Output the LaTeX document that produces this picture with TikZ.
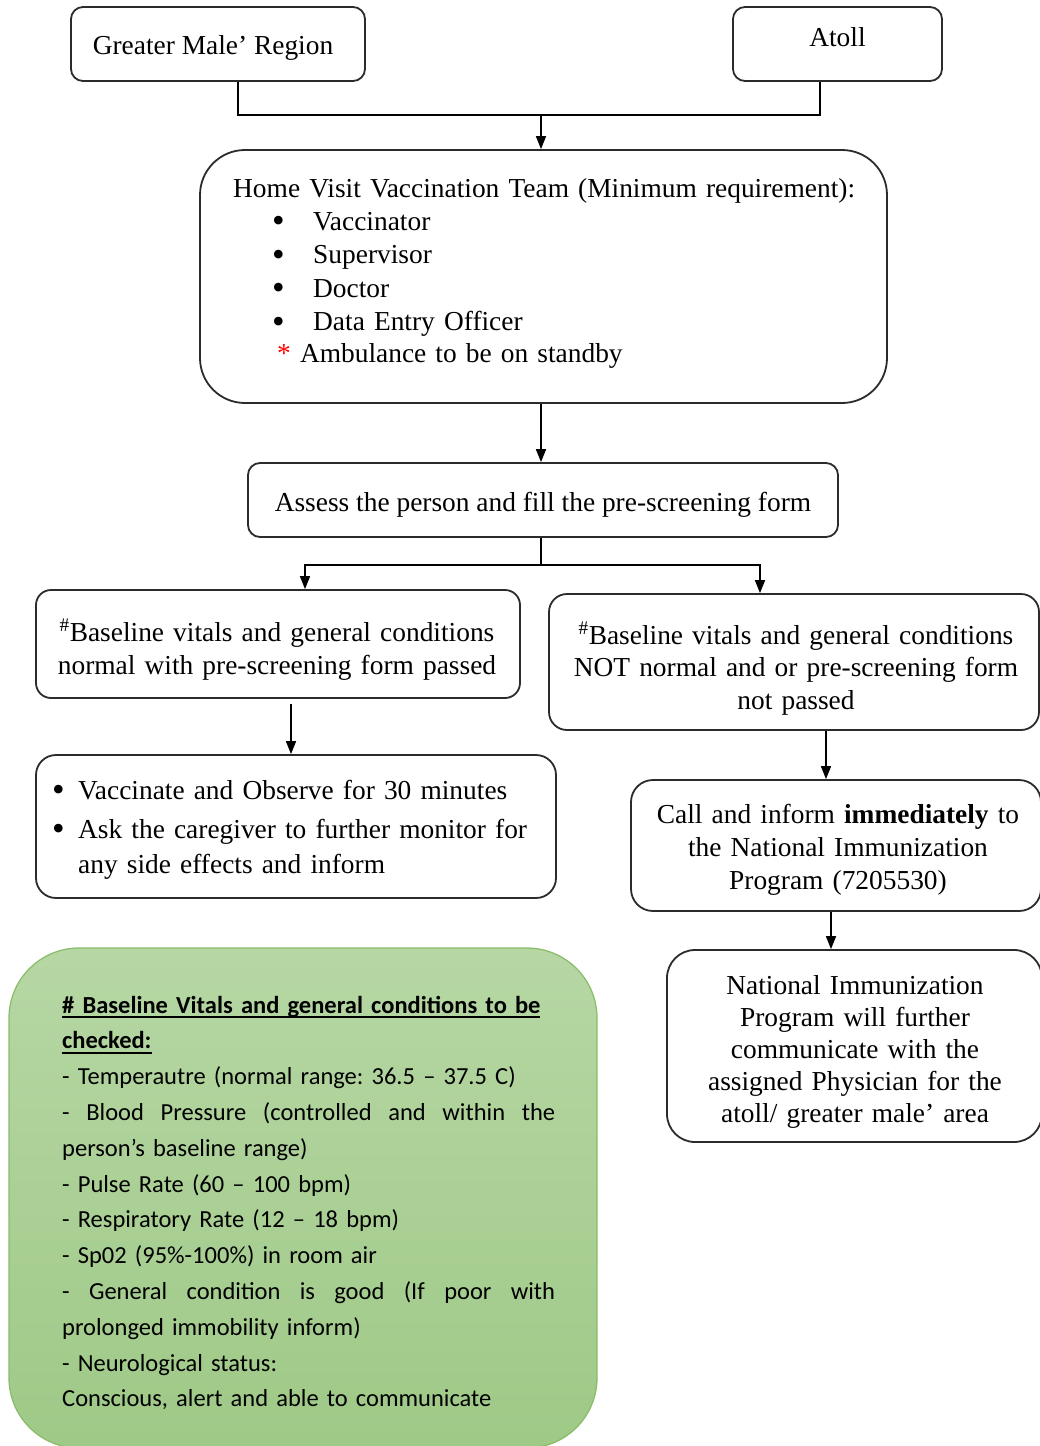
\documentclass[tikz,border=0pt]{standalone}
\usepackage{fontspec}
\setmainfont{Liberation Serif}
\newfontfamily\calibrifont{Carlito}
\usetikzlibrary{arrows.meta,calc}

\definecolor{boxline}{HTML}{2B2B2B}
\definecolor{greentop}{HTML}{B6D7A4}
\definecolor{greenbot}{HTML}{9FC987}
\definecolor{greenedge}{HTML}{88BC66}

% serif body text and the Calibri-like note text
\newcommand\bodysize{\fontsize{27.4}{33.4}\selectfont}
\newcommand\notesize{\calibrifont\fontsize{24.5}{35.8}\selectfont\frenchspacing}
% bold heading with a thick underline
\newcommand\ulhead[1]{\setbox0\hbox{#1}\rlap{\rule[-5pt]{\wd0}{2.2pt}}\box0}
% large round list bullet
\newcommand\bigdot{\raisebox{-2.5pt}{\fontsize{36}{36}\selectfont •}}

\begin{document}
\begin{tikzpicture}[x=1pt,y=-1pt,
  box/.style={draw=boxline, line width=1.8pt, rounded corners=12pt, inner sep=0pt},
  txt/.style={font=\bodysize, inner sep=0pt, text=black},
  link/.style={draw=black, line width=1.6pt},
  arrow/.style={link, -{Triangle[length=13pt,width=10pt]}}]

\useasboundingbox (0,0) rectangle (1040,1446);
\clip (0,0) rectangle (1040,1446);

% ---- boxes ----
\node[box, minimum width=294pt, minimum height=74pt] (GM) at (218,44) {};
\node[box, minimum width=209pt, minimum height=74pt] (Atoll) at (837.5,44) {};
\node[box, rounded corners=45pt, minimum width=687pt, minimum height=253pt] (home) at (543.5,276.5) {};
\node[box, minimum width=590pt, minimum height=74pt] (assess) at (543,500) {};
\node[box, rounded corners=15pt, minimum width=484pt, minimum height=108pt] (L1) at (278,644) {};
\node[box, rounded corners=18pt, minimum width=490pt, minimum height=136pt] (R1) at (794,662) {};
\node[box, rounded corners=20pt, minimum width=520pt, minimum height=143pt] (L2) at (296,826.5) {};
\node[box, rounded corners=22pt, minimum width=410pt, minimum height=131pt] (R2) at (836,845.5) {};
\node[box, rounded corners=28pt, minimum width=375pt, minimum height=192pt] (R3) at (854.5,1046) {};
\node[draw=greenedge, line width=1.2pt, rounded corners=70pt, top color=greentop, bottom color=greenbot,
      minimum width=588pt, minimum height=500pt, inner sep=0pt] (note) at (303,1198) {};

% ---- texts ----
\node[txt, anchor=base] (GMt) at (213,54) {Greater Male’ Region};
\node[txt, anchor=base] (Atollt) at (837.5,46) {Atoll};
\node[txt, anchor=base west, text width=640pt, align=left] (homet) at (233,197)
  {Home Visit Vaccination Team (Minimum requirement):\\
   \hspace*{39pt}\makebox[41pt][l]{\bigdot}Vaccinator\\
   \hspace*{39pt}\makebox[41pt][l]{\bigdot}Supervisor\\
   \hspace*{39pt}\makebox[41pt][l]{\bigdot}Doctor\\
   \hspace*{39pt}\makebox[41pt][l]{\bigdot}Data Entry Officer\\[-2pt]
   \hspace*{44pt}\textcolor{red}{*} Ambulance to be on standby};
\node[txt, anchor=base] (assesst) at (543,511) {Assess the person and fill the pre-screening form};
\node[txt, anchor=base, text width=470pt, align=center] (L1t) at (277,641)
  {\textsuperscript{\#}Baseline vitals and general conditions\\
   normal with pre-screening form passed};
\node[txt, anchor=base, text width=480pt, align=center, font=\fontsize{27.4}{32.5}\selectfont] (R1t) at (796,644)
  {\textsuperscript{\#}Baseline vitals and general conditions\\
   NOT normal and or pre-screening form\\
   not passed};
\node[txt, anchor=base west, text width=490pt, align=left, font=\fontsize{27.4}{35}\selectfont] (L2t) at (52,799)
  {\makebox[26pt][l]{\bigdot}Vaccinate and Observe for 30 minutes\\[4pt]
   \makebox[26pt][l]{\bigdot}Ask the caregiver to further monitor for\\
   \hspace*{26pt}any side effects and inform};
\node[txt, anchor=base, text width=400pt, align=center, font=\fontsize{27.4}{33}\selectfont] (R2t) at (838,823)
  {Call and inform \textbf{immediately} to\\
   the National Immunization\\
   Program (7205530)};
\node[txt, anchor=base, text width=370pt, align=center, font=\fontsize{27.4}{32}\selectfont] (R3t) at (855,994)
  {National Immunization\\
   Program will further\\
   communicate with the\\
   assigned Physician for the\\
   atoll/ greater male’ area};
\node[anchor=base west, inner sep=0pt, text width=493pt, align=left, font=\notesize] (notet) at (62,1013)
  {\textbf{\ulhead{\# Baseline Vitals and general conditions to be}}\\
   \textbf{\ulhead{checked:}}\\
   - Temperautre (normal range: 36.5 – 37.5 C)\\
   \makebox[493pt][l]{-\hfill Blood\hfill Pressure\hfill (controlled\hfill and\hfill within\hfill the}\\
   person’s baseline range)\\
   - Pulse Rate (60 – 100 bpm)\\
   - Respiratory Rate (12 – 18 bpm)\\
   - Sp02 (95\%-100\%) in room air\\
   \makebox[493pt][l]{-\hfill General\hfill condition\hfill is\hfill good\hfill (If\hfill poor\hfill with}\\
   prolonged immobility inform)\\
   - Neurological status:\\
   Conscious, alert and able to communicate};

% ---- connectors ----
\coordinate (bar) at (541,115);
\coordinate (split) at (541,565);
\coordinate (gmfoot) at ([xshift=20pt]GM.south);
\coordinate (atfoot) at ([xshift=-17.5pt]Atoll.south);

\draw[link] (gmfoot) |- (bar) -| (atfoot);
\draw[arrow] (bar) -- (bar |- home.north);
\draw[arrow] (bar |- home.south) -- (bar |- assess.north);
\draw[link] (bar |- assess.south) -- (split);
\draw[arrow] (split) -| ([xshift=27pt]L1.north);
\draw[arrow] (split) -| ([xshift=-34pt]R1.north);
\draw[arrow, shorten <=5pt] ([xshift=13pt]L1.south) -- ([xshift=13pt]L1.south |- L2.north);
\draw[arrow] ([xshift=32pt]R1.south) -- ([xshift=32pt]R1.south |- R2.north);
\draw[arrow] ([xshift=-5pt]R2.south) -- ([xshift=-5pt]R2.south |- R3.north);

\end{tikzpicture}
\end{document}
